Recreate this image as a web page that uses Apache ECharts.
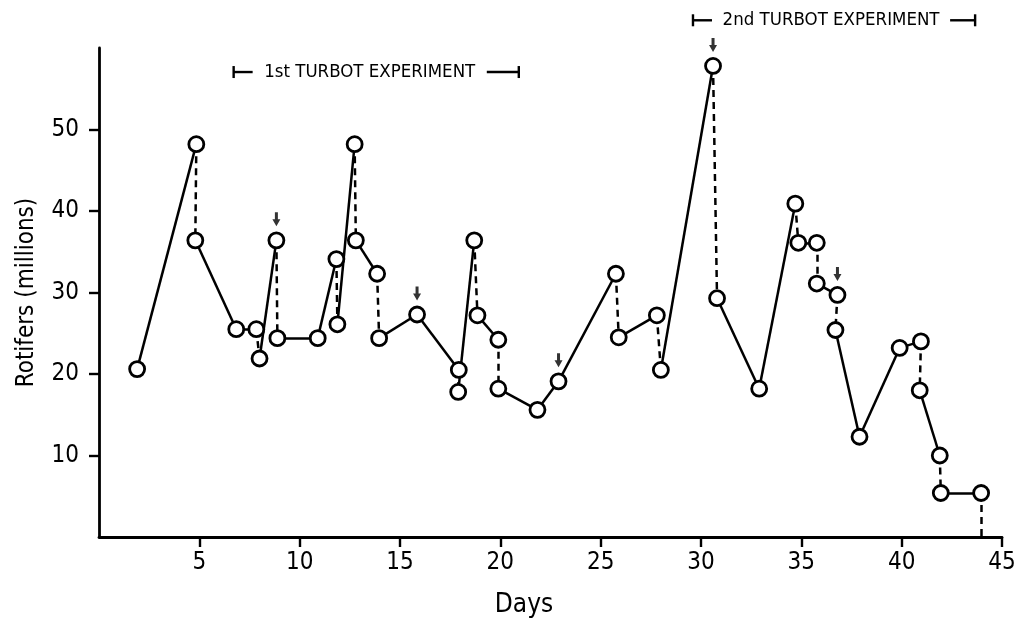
<!DOCTYPE html>
<html><head><meta charset="utf-8">
<script src="https://cdn.jsdelivr.net/npm/echarts@6/dist/echarts.min.js"></script>
<style>html,body{margin:0;padding:0;background:#fff}#c{width:1028px;height:628px}</style>
</head><body><div id="c"></div>
<script>
// ---- data ----
const days = [1.9, 4.85, 4.8, 6.84, 7.84, 8.0, 8.84, 8.89, 10.9, 11.83, 11.88, 12.74, 12.8, 13.86, 13.96,
  15.85, 17.93, 17.9, 18.7, 18.86, 19.9, 19.9, 21.85, 22.9, 25.76, 25.9, 27.8, 28.0,
  30.6, 30.8, 32.9, 34.7, 34.85, 35.77, 35.77, 36.8, 36.7, 37.9, 39.9, 40.96, 40.9, 41.9, 41.95, 43.96, 43.96];
const rotifers = [20.6, 48.2, 36.4, 25.5, 25.5, 21.9, 36.4, 24.4, 24.4, 34.1, 26.1, 48.2, 36.4, 32.3, 24.4,
  27.3, 20.5, 17.8, 36.4, 27.2, 24.2, 18.2, 15.6, 19.1, 32.3, 24.5, 27.2, 20.5,
  57.8, 29.3, 18.2, 40.9, 36.1, 36.1, 31.1, 29.7, 25.4, 12.3, 23.2, 24.0, 18.0, 10.0, 5.4, 5.4, 0];
// link from point i to point i+1: S = solid growth line, D = dashed harvest drop
const links = ['S','D','S','S','D','S','D','S','S','D','S','D','S','D','S','S','D','S','D','S','D','S',
  'S','S','D','S','D','S','D','S','S','D','S','D','S','D','S','S','S','D','S','D','S','D'];
const arrowDays = [8.84, 15.85, 22.9, 30.6, 36.8];
const arrowValues = [36.4, 27.3, 19.1, 57.8, 29.7];
const xTickValues = [5, 10, 15, 20, 25, 30, 35, 40, 45];
const yTickValues = [10, 20, 30, 40, 50];
const expLabels = ['1st TURBOT EXPERIMENT', '2nd TURBOT EXPERIMENT'];
const expStart = [6.71, 29.6];
const expEnd = [20.92, 43.66];
const expLevel = [57.05, 63.4];

// ---- chart ----
const FONT = "'Liberation Sans Narrow','DejaVu Sans Condensed','Roboto Condensed',sans-serif";
const chart = echarts.init(document.getElementById('c'), null, {renderer: 'canvas'});
const pts = days.map((d, i) => [d, rotifers[i]]);
const solid = [], dashed = [];
links.forEach((t, i) => {
  const seg = {coords: [pts[i], pts[i + 1]]};
  (t === 'S' ? solid : dashed).push(seg);
});
const axisBase = {
  axisLine: {show: true, onZero: false, lineStyle: {color: '#000', width: 2.8}},
  splitLine: {show: false}
};
chart.setOption({
  animation: false,
  backgroundColor: '#fff',
  grid: {left: 99, right: 26, top: 48, bottom: 91, containLabel: false},
  xAxis: Object.assign({
    type: 'value', min: 0, max: 45, interval: 5,
    axisTick: {show: true, customValues: xTickValues, length: 10, lineStyle: {color: '#000', width: 2.4}},
    axisLabel: {customValues: xTickValues, color: '#000', fontFamily: FONT, fontSize: 24, margin: 14}
  }, axisBase),
  yAxis: Object.assign({
    type: 'value', min: 0, max: 60, interval: 10,
    name: 'Rotifers (millions)', nameLocation: 'middle', nameGap: 60,
    nameTextStyle: {color: '#000', fontFamily: FONT, fontSize: 24},
    axisTick: {show: true, customValues: yTickValues, length: 10, lineStyle: {color: '#000', width: 2.4}},
    axisLabel: {customValues: yTickValues, color: '#000', fontFamily: FONT, fontSize: 24, margin: 20}
  }, axisBase),
  series: [
    {type: 'lines', coordinateSystem: 'cartesian2d', data: solid, silent: true, z: 2,
      lineStyle: {color: '#000', width: 2.5, opacity: 1, type: 'solid'}},
    {type: 'lines', coordinateSystem: 'cartesian2d', data: dashed, silent: true, z: 2,
      lineStyle: {color: '#000', width: 2.5, opacity: 1, type: [7, 5]}},
    {type: 'scatter', data: pts.filter(p => p[1] > 0), symbol: 'circle', symbolSize: 15, z: 5,
      itemStyle: {color: '#fff', borderColor: '#000', borderWidth: 2.8, opacity: 1}},
    {type: 'scatter', data: arrowDays.map((d, i) => [d, arrowValues[i]]), z: 6,
      symbol: 'path://M2.5,0 L5.5,0 L5.5,7 L8,7 L4,14 L0,7 L2.5,7 Z', symbolSize: [8, 14], symbolOffset: [0, -21],
      itemStyle: {color: '#000'}}
  ]
});

// experiment brackets
const g = [];
expLabels.forEach((lab, i) => {
  const a = chart.convertToPixel({gridIndex: 0}, [expStart[i], expLevel[i]]);
  const b = chart.convertToPixel({gridIndex: 0}, [expEnd[i], expLevel[i]]);
  const y = a[1];
  const ls = {stroke: '#000', lineWidth: 2.4};
  const rl = i === 0 ? 32 : 25;
  g.push({type: 'line', shape: {x1: a[0], y1: y - 6, x2: a[0], y2: y + 6}, style: ls});
  g.push({type: 'line', shape: {x1: b[0], y1: y - 6, x2: b[0], y2: y + 6}, style: ls});
  g.push({type: 'line', shape: {x1: a[0], y1: y, x2: a[0] + 19, y2: y}, style: ls});
  g.push({type: 'line', shape: {x1: b[0] - rl, y1: y, x2: b[0], y2: y}, style: ls});
  g.push({type: 'text', x: (a[0] + 19 + b[0] - rl) / 2, y: y,
    style: {text: lab, fill: '#000', fontFamily: FONT, fontSize: 18.5, align: 'center', verticalAlign: 'middle'}});
});
g.push({type: 'text', x: 524, y: 605,
  style: {text: 'Days', fill: '#000', fontFamily: FONT, fontSize: 26, align: 'center', verticalAlign: 'middle'}});
chart.setOption({graphic: g});
</script></body></html>
